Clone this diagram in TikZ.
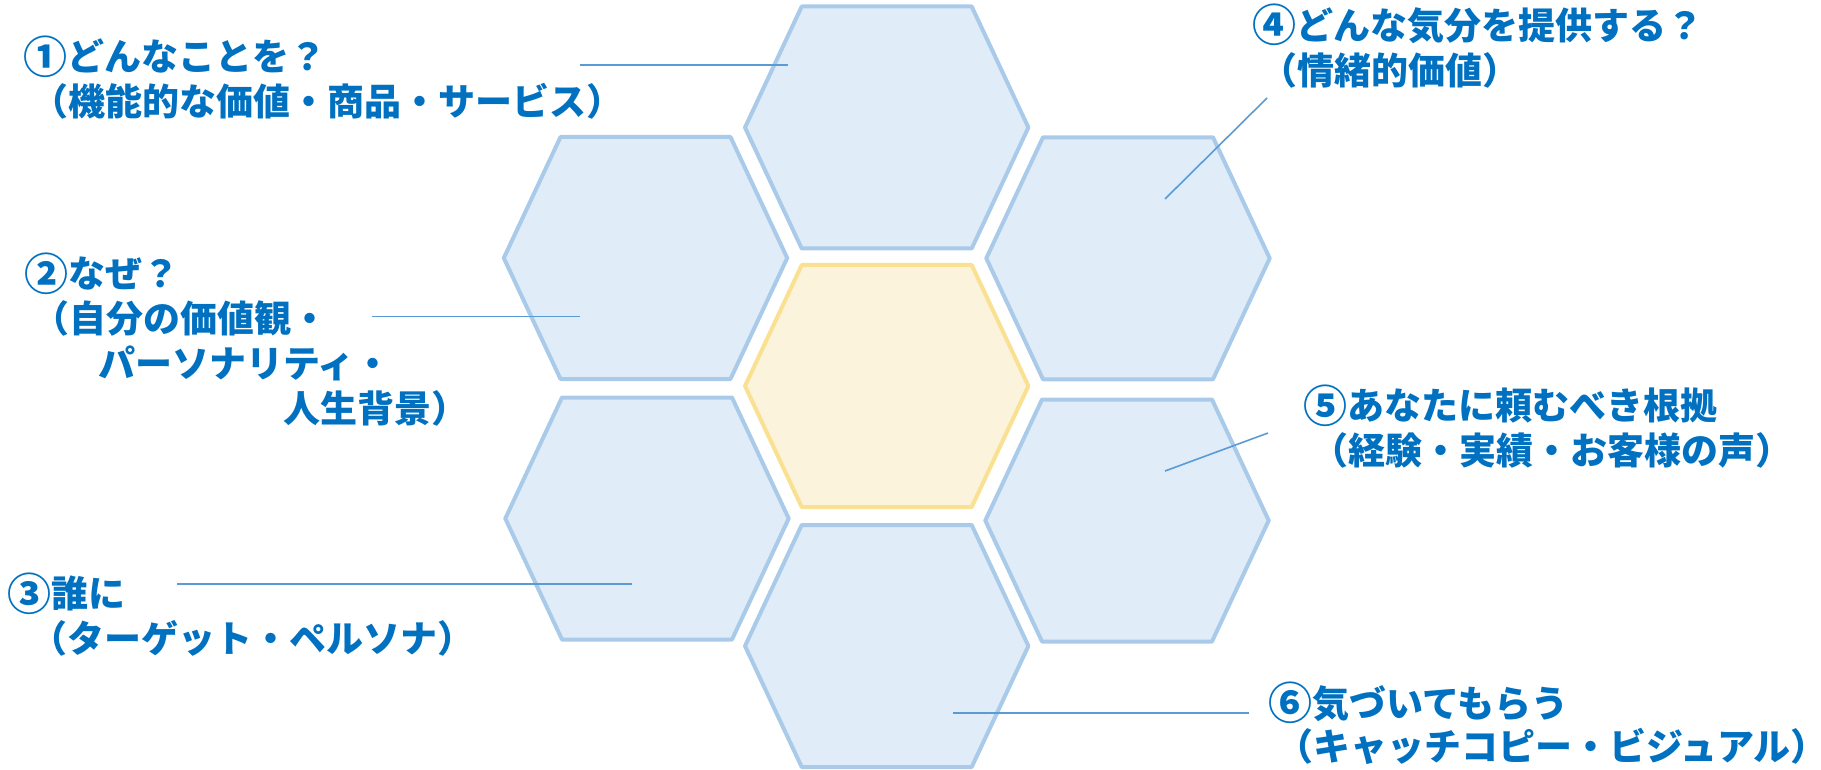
\documentclass[tikz,border=0pt]{standalone}
\usepackage{fontspec}
\setmainfont{Noto Sans CJK JP}
\usetikzlibrary{calc}

\definecolor{cellfill}{HTML}{E0ECF7}
\definecolor{celledge}{HTML}{A9CBE9}
\definecolor{corefill}{HTML}{FBF3DC}
\definecolor{coreedge}{HTML}{FAE192}
\definecolor{leadblue}{HTML}{5B9BD5}
\definecolor{textblue}{HTML}{0070C0}

% hexagon around a centre: style, centre
\newcommand{\hexat}[2]{\draw[#1, shift={(#2)}] (-141.7,0) -- (-85,-121) -- (85,-121)
  -- (141.7,0) -- (85,121) -- (-85,121) -- cycle;}
% circled number, a bit larger than the text
\newcommand{\circnum}[1]{\smash{\raisebox{-2.8pt}{\fontsize{44}{45}\selectfont #1}}}

\begin{document}
\begin{tikzpicture}[x=1pt, y=-1pt,
  hexcell/.style={draw=celledge, fill=cellfill, line width=4pt, line join=round},
  hexcore/.style={draw=coreedge, fill=corefill, line width=4pt, line join=round},
  leader/.style={draw=leadblue, line width=1.6pt},
  qlabel/.style={anchor=north west, inner sep=0pt, align=left, text=textblue,
    font=\fontsize{37}{45}\selectfont\bfseries}]
  \useasboundingbox (0,0) rectangle (1821,770);
  % centres of the cells
  \coordinate (hTop) at (886.7,127.5);
  \coordinate (hMid) at (886.7,386);
  \coordinate (hBot) at (886.7,646);
  \coordinate (hUL) at (645.5,258);
  \coordinate (hLL) at (647,518.5);
  \coordinate (hUR) at (1128,258.3);
  \coordinate (hLR) at (1127,520.5);
  \hexat{hexcell}{hTop}
  \hexat{hexcell}{hUL}
  \hexat{hexcell}{hUR}
  \hexat{hexcell}{hLL}
  \hexat{hexcell}{hLR}
  \hexat{hexcell}{hBot}
  \hexat{hexcore}{hMid}
  % labels
  \node[qlabel] (q1) at (23,38.5) {\circnum{①}どんなことを？\\\hspace*{0.22em}（機能的な価値・商品・サービス）};
  \node[qlabel] (q2) at (24,256.5) {\circnum{②}なぜ？\\\hspace*{0.22em}（自分の価値観・\\\hspace*{2em}パーソナリティ・\\\hspace*{7em}人生背景）};
  \node[qlabel] (q3) at (7,575.5) {\circnum{③}誰に\\\hspace*{0.62em}（ターゲット・ペルソナ）};
  \node[qlabel] (q4) at (1252,7) {\circnum{④}どんな気分を提供する？\\\hspace*{0.22em}（情緒的価値）};
  \node[qlabel] (q5) at (1303,388) {\circnum{⑤}あなたに頼むべき根拠\\\hspace*{0.22em}（経験・実績・お客様の声）};
  \node[qlabel] (q6) at (1268,685) {\circnum{⑥}気づいてもらう\\[-2pt]\hspace*{0.22em}（キャッチコピー・ビジュアル）};
  % leader lines
  \coordinate (a1) at (580,65);    \coordinate (t1) at (788,65);
  \coordinate (a2) at (372,316.5); \coordinate (t2) at (580,316.5);
  \coordinate (a3) at (177,584);   \coordinate (t3) at (632,584);
  \coordinate (a4) at (1267,98);   \coordinate (t4) at (1165,199);
  \coordinate (a5) at (1268,433);  \coordinate (t5) at (1165,471);
  \coordinate (a6) at (1249,713);  \coordinate (t6) at (953,713);
  \draw[leader] (a1)--(t1);
  \draw[leader] (a2)--(t2);
  \draw[leader] (a3)--(t3);
  \draw[leader] (a4)--(t4);
  \draw[leader] (a5)--(t5);
  \draw[leader] (a6)--(t6);
\end{tikzpicture}
\end{document}
